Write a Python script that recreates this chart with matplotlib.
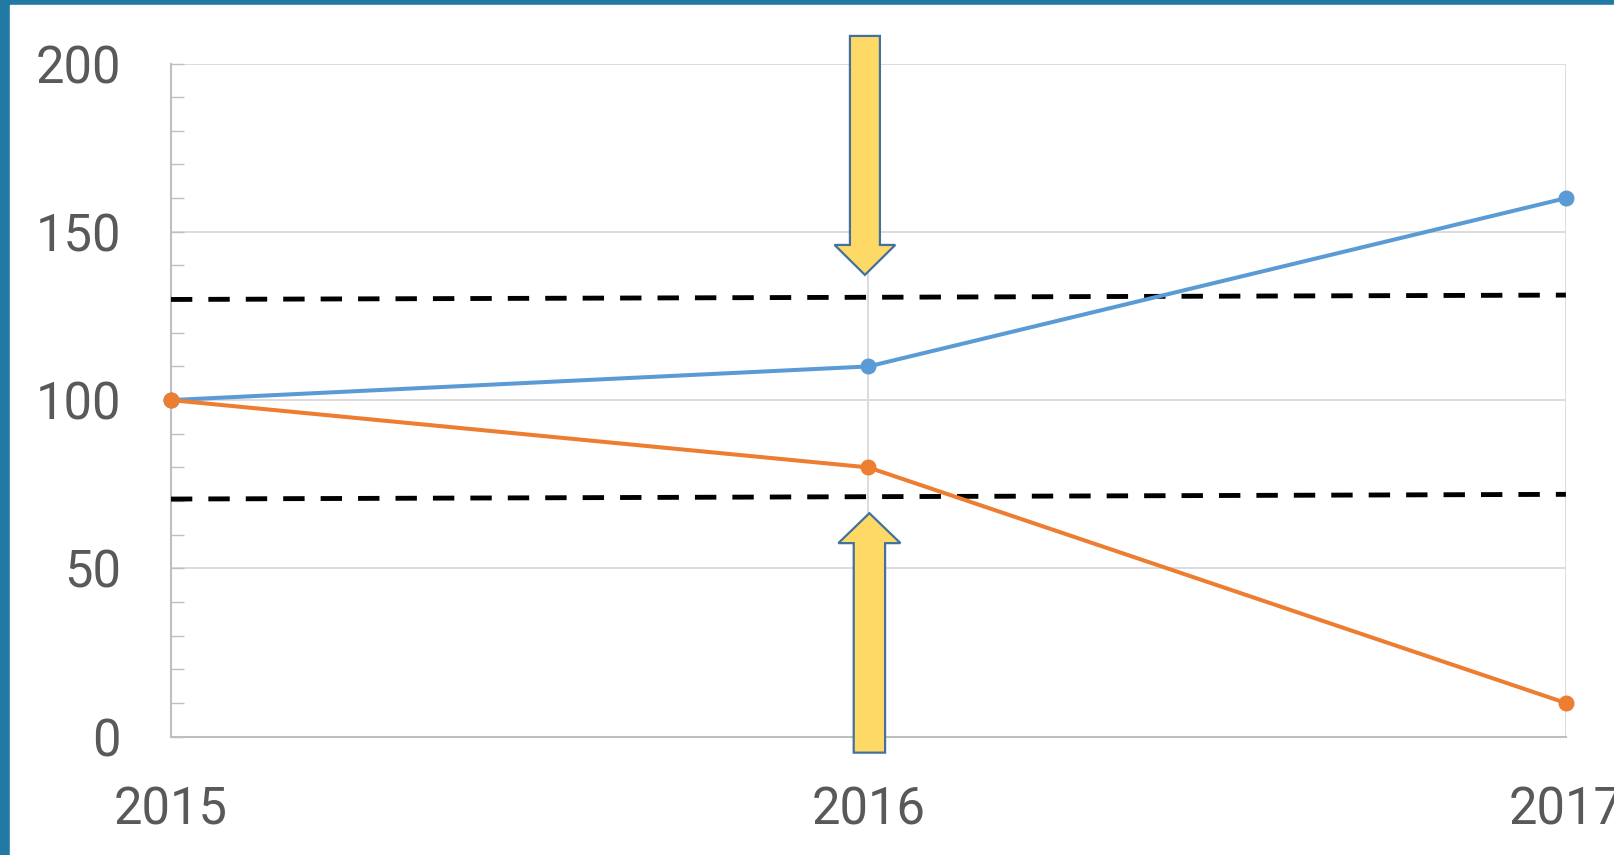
import matplotlib.pyplot as plt
import matplotlib.patches as mpatches
from matplotlib.ticker import MultipleLocator

plt.rcParams['font.family'] = ['Roboto', 'DejaVu Sans']

years = [2015, 2016, 2017]
series_up = [100, 110, 160]
series_down = [100, 80, 10]
upper_band = [129.9, 131.2]
lower_band = [70.6, 72.0]
band_x = [2015, 2017]

BLUE = '#5B9BD5'
ORANGE = '#ED7D31'
TEXT = '#595959'
GRID = '#D9D9D9'
AXIS = '#BFBFBF'
FRAME = '#2279A3'

fig = plt.figure(figsize=(16.14, 8.55), dpi=100)
fig.patches.append(mpatches.Rectangle((0, 0), 1, 1, transform=fig.transFigure,
                                      color=FRAME, zorder=-10))
fig.patches.append(mpatches.Rectangle((10 / 1614, 0), 1, 1 - 5 / 855,
                                      transform=fig.transFigure,
                                      color='white', zorder=-9))

ax = fig.add_axes([0.1059, 0.1384, 0.8643, 0.7873])
ax.set_facecolor('none')

ax.plot(years, series_up, color=BLUE, lw=2.9, marker='o', ms=10.5, zorder=4,
        clip_on=False)
ax.plot(years, series_down, color=ORANGE, lw=2.9, marker='o', ms=10.5, zorder=4,
        clip_on=False)

ax.plot(band_x, upper_band, color='black', lw=3.5, dashes=(4.4, 3.3), zorder=3)
ax.plot(band_x, lower_band, color='black', lw=3.5, dashes=(4.4, 3.3), zorder=3)

# callout arrows pointing at 2016
arrow_style = dict(facecolor='#FFD966', edgecolor='#41719C', linewidth=1.6,
                   length_includes_head=True, clip_on=False, zorder=6)
ax.add_patch(mpatches.FancyArrow(2015.995, 208.2, 0, -71.0, width=0.043,
                                 head_width=0.087, head_length=8.9, **arrow_style))
ax.add_patch(mpatches.FancyArrow(2016.0014, -4.75, 0, 71.15, width=0.045,
                                 head_width=0.089, head_length=8.9, **arrow_style))

ax.set_xlim(2015, 2017)
ax.set_ylim(0, 200)
ax.set_xticks(years)
ax.set_xticklabels([str(y) for y in years])
ax.yaxis.set_major_locator(MultipleLocator(50))
ax.yaxis.set_minor_locator(MultipleLocator(10))

ax.grid(True, color=GRID, lw=1.3, zorder=0)
ax.set_axisbelow(True)

for side in ['top', 'right']:
    ax.spines[side].set_visible(False)
for side in ['left', 'bottom']:
    ax.spines[side].set_color(AXIS)
    ax.spines[side].set_linewidth(1.5)

ax.tick_params(axis='y', which='both', direction='in', length=9, width=1,
               color=AXIS, labelsize=36.5, labelcolor=TEXT, pad=36)
ax.tick_params(axis='x', which='both', length=0, labelsize=36.5,
               labelcolor=TEXT, pad=35)

fig.savefig('out.png', dpi=100)
